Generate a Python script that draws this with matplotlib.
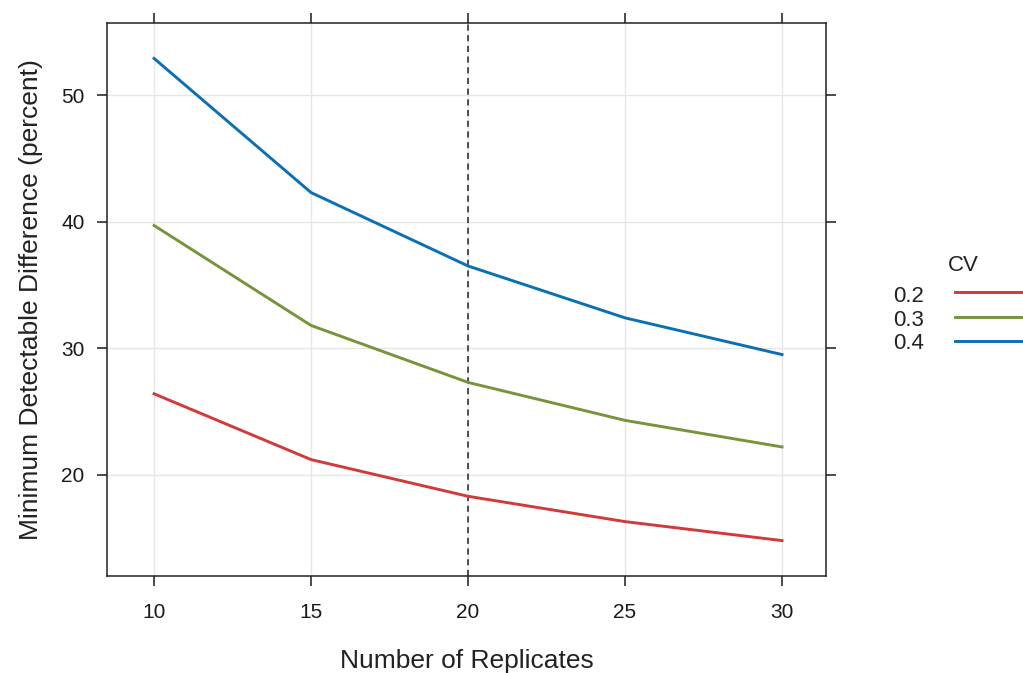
import matplotlib
matplotlib.use("Agg")
import matplotlib.pyplot as plt
from matplotlib.lines import Line2D

plt.rcParams['font.family'] = ['Liberation Sans', 'DejaVu Sans']

# Values
replicates = [10, 15, 20, 25, 30]
cv_levels = ['0.2', '0.3', '0.4']
mdd_02 = [26.4, 21.2, 18.3, 16.3, 14.8]
mdd_03 = [39.7, 31.8, 27.3, 24.3, 22.2]
mdd_04 = [52.9, 42.3, 36.5, 32.4, 29.5]
x_ticks = [10, 15, 20, 25, 30]
y_ticks = [20, 30, 40, 50]
ref_replicates = 20

colors = ['#d23a3a', '#76943a', '#0a6fb5']

fig = plt.figure(figsize=(10.23, 6.73), dpi=100)
ax = fig.add_axes([0.1046, 0.1441, 0.7028, 0.8217])

# light grid at the tick positions
for xv in x_ticks:
    ax.axvline(xv, color='#e6e6e6', lw=1, zorder=0)
for yv in y_ticks:
    ax.axhline(yv, color='#e6e6e6', lw=1, zorder=0)

for vals, col in zip([mdd_02, mdd_03, mdd_04], colors):
    ax.plot(replicates, vals, color=col, lw=2.1, zorder=3)

ax.axvline(ref_replicates, color='#222222', lw=1.1, ls=(0, (4, 3)), zorder=2)

ax.set_xlim(8.5, 31.4)
ax.set_ylim(12.0, 55.7)
ax.set_xticks(x_ticks)
ax.set_yticks(y_ticks)
ax.tick_params(axis='both', direction='out', length=7.2, width=1.1,
               labelsize=15, colors='#1a1a1a',
               top=True, right=True, labeltop=False, labelright=False)
ax.tick_params(axis='x', pad=12)
ax.tick_params(axis='y', pad=9)
for sp in ax.spines.values():
    sp.set_linewidth(1.1)
    sp.set_color('#222222')

ax.set_xlabel('Number of Replicates', fontsize=19, color='#222222', labelpad=20)
ax.set_ylabel('Minimum Detectable Difference (percent)', fontsize=19,
              color='#222222', labelpad=13)

# key on the right
fig.text(0.927, 0.606, 'CV', fontsize=16, color='#222222', ha='left', va='center')
label_y = [0.559, 0.524, 0.489]
line_y = [0.566, 0.529, 0.493]
for lab, col, ty, ly in zip(cv_levels, colors, label_y, line_y):
    fig.text(0.873, ty, lab, fontsize=16, color='#222222', ha='left', va='center')
    fig.add_artist(Line2D([0.934, 1.01], [ly, ly],
                          transform=fig.transFigure, color=col, lw=2.1))

fig.savefig('out.png', dpi=100)
